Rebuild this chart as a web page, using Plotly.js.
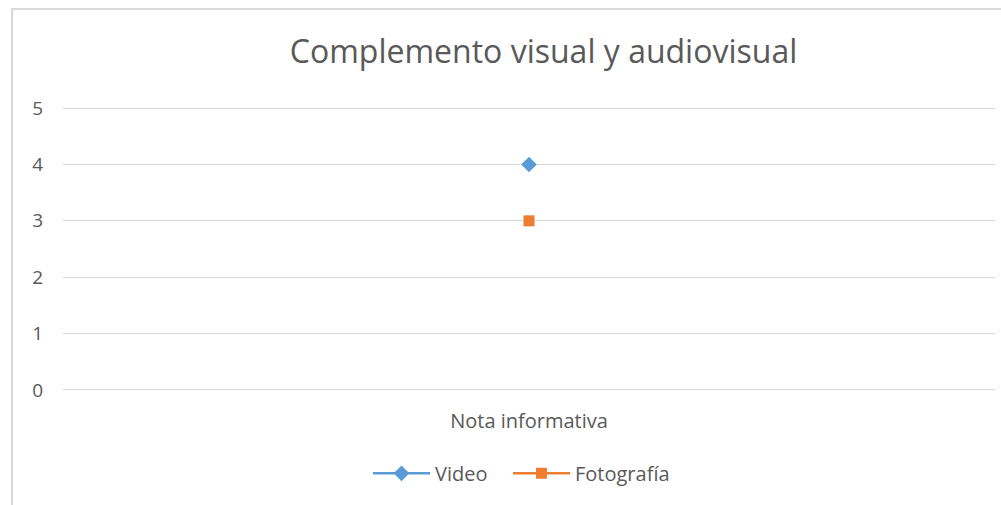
<!DOCTYPE html>
<html>
<head>
<meta charset="utf-8">
<script src="https://cdn.plot.ly/plotly-3.0.1.min.js"></script>
<style>
html,body{margin:0;padding:0;background:#fff;}
#wrap{position:relative;width:1001px;height:505px;}
#chart{position:absolute;left:0;top:0;width:1001px;height:505px;}
#frame{position:absolute;left:11px;top:8px;width:990px;height:497px;border-left:2px solid #D9D9D9;border-top:2px solid #D9D9D9;box-sizing:border-box;pointer-events:none;}
</style>
</head>
<body>
<div id="wrap"><div id="chart"></div><div id="frame"></div></div>
<script>
const categories = ["Nota informativa"];
const seriesNames = ["Video", "Fotografía"];
const videoValues = [4];
const fotografiaValues = [3];
const yTicks = [0, 1, 2, 3, 4, 5];

const font = '"Open Sans", "Liberation Sans", sans-serif';
const traces = [
  {x: categories, y: videoValues, name: seriesNames[0], type: 'scatter', mode: 'lines+markers', legend: 'legend',
   line: {color: '#5B9BD5', width: 2.5}, marker: {symbol: 'diamond', size: 12, color: '#5B9BD5'}},
  {x: categories, y: fotografiaValues, name: seriesNames[1], type: 'scatter', mode: 'lines+markers', legend: 'legend2',
   line: {color: '#ED7D31', width: 2.5}, marker: {symbol: 'square', size: 11, color: '#ED7D31'}}
];
const legendBase = {orientation: 'h', xanchor: 'left', y: -0.29, yanchor: 'middle',
  font: {size: 20, color: '#595959'}, itemwidth: 57, bgcolor: 'rgba(0,0,0,0)'};
const layout = {
  width: 1001, height: 505,
  margin: {l: 63, r: 6, t: 107, b: 114},
  paper_bgcolor: '#fff', plot_bgcolor: '#fff',
  font: {family: font, color: '#595959', size: 19},
  title: {text: 'Complemento visual y audiovisual', font: {family: font, size: 32, color: '#595959'},
          x: 0.543, xanchor: 'center', y: 0.897, yanchor: 'middle'},
  xaxis: {type: 'category', range: [-0.5, 0.5], showgrid: false, zeroline: false, showline: false,
          ticks: '', ticklabelstandoff: 16, tickfont: {size: 20, color: '#595959'}, fixedrange: true},
  yaxis: {range: [-0.02, 5.02], tickvals: yTicks, showgrid: true, gridcolor: '#D9D9D9', gridwidth: 1,
          zeroline: false, showline: false, ticks: '', ticklabelstandoff: 19,
          tickfont: {size: 19, color: '#595959'}, fixedrange: true},
  showlegend: true,
  legend: Object.assign({}, legendBase, {x: (368 - 63) / 932}),
  legend2: Object.assign({}, legendBase, {x: (508 - 63) / 932}),
  hovermode: false
};
Plotly.newPlot('chart', traces, layout, {displayModeBar: false, staticPlot: true});
</script>
</body>
</html>
